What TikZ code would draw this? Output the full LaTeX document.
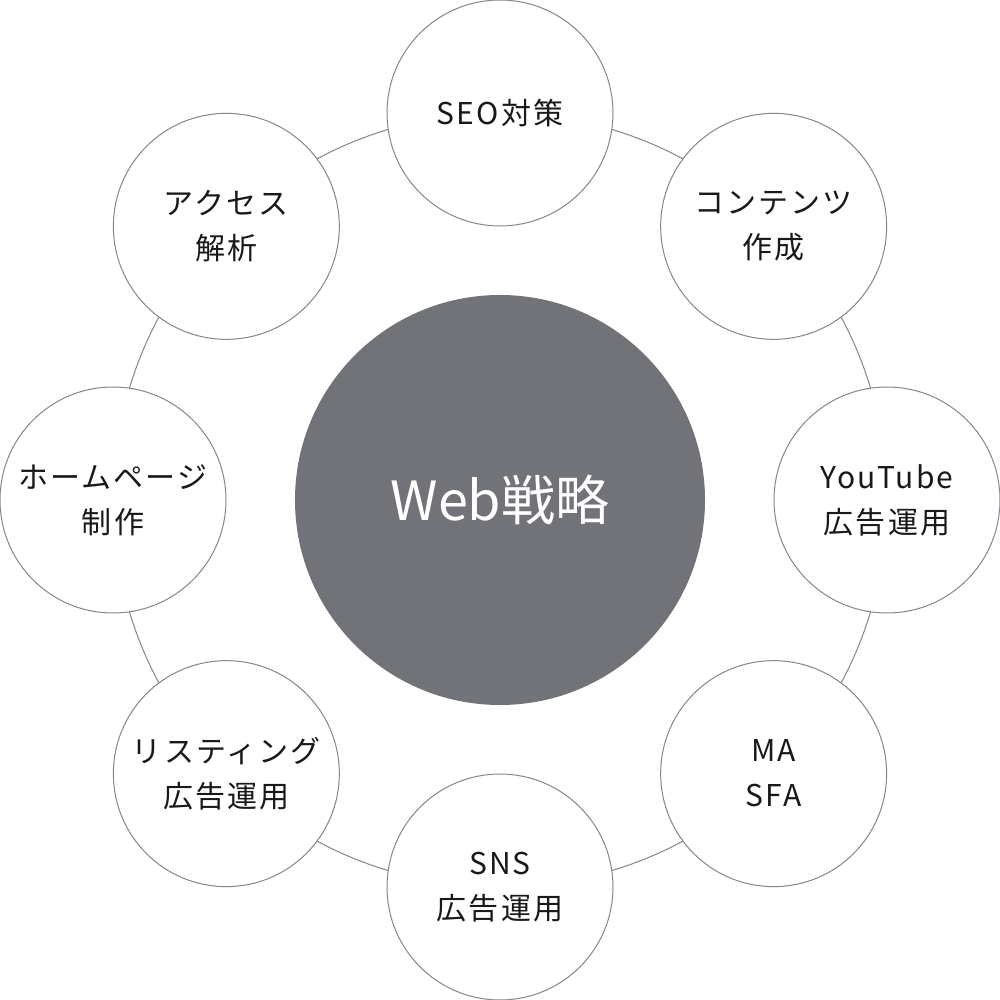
\documentclass[tikz,border=0pt]{standalone}
\usepackage{fontspec}
\setmainfont{Noto Sans CJK JP}[LetterSpace=7]
\newfontfamily\webfont{Noto Sans CJK JP}
\definecolor{hubgray}{HTML}{727379}
\definecolor{ringgray}{HTML}{85858C}
\tikzset{
  topic/.style={circle,draw=ringgray,line width=1pt,fill=white,
    minimum size=226pt,inner sep=0pt,align=center,
    font=\fontsize{30pt}{45pt}\selectfont,text=black!90},
  hub/.style={circle,fill=hubgray,minimum size=410pt,inner sep=0pt,
    font=\webfont\fontsize{54pt}{60pt}\selectfont,text=white}
}
\begin{document}
\begin{tikzpicture}[x=1pt,y=1pt]
  \useasboundingbox (-500,-500) rectangle (500,500);
  % 中心
  \node[hub] (web) at (0,0) {Web戦略};
  % 外周の輪
  \draw[ringgray,line width=1pt] (web.center) circle[radius=387];
  % 周りの施策
  \node[topic] (seo)     at (90:387)   {SEO対策};
  \node[topic] (content) at (45:387)   {コンテンツ\\作成};
  \node[topic] (youtube) at (0:387)    {YouTube\\広告運用};
  \node[topic] (ma)      at (-45:387)  {MA\\SFA};
  \node[topic] (sns)     at (-90:387)  {SNS\\広告運用};
  \node[topic] (listing) at (-135:387) {リスティング\\広告運用};
  \node[topic] (hp)      at (180:387)  {ホームページ\\制作};
  \node[topic] (access)  at (135:387)  {アクセス\\解析};
\end{tikzpicture}
\end{document}
